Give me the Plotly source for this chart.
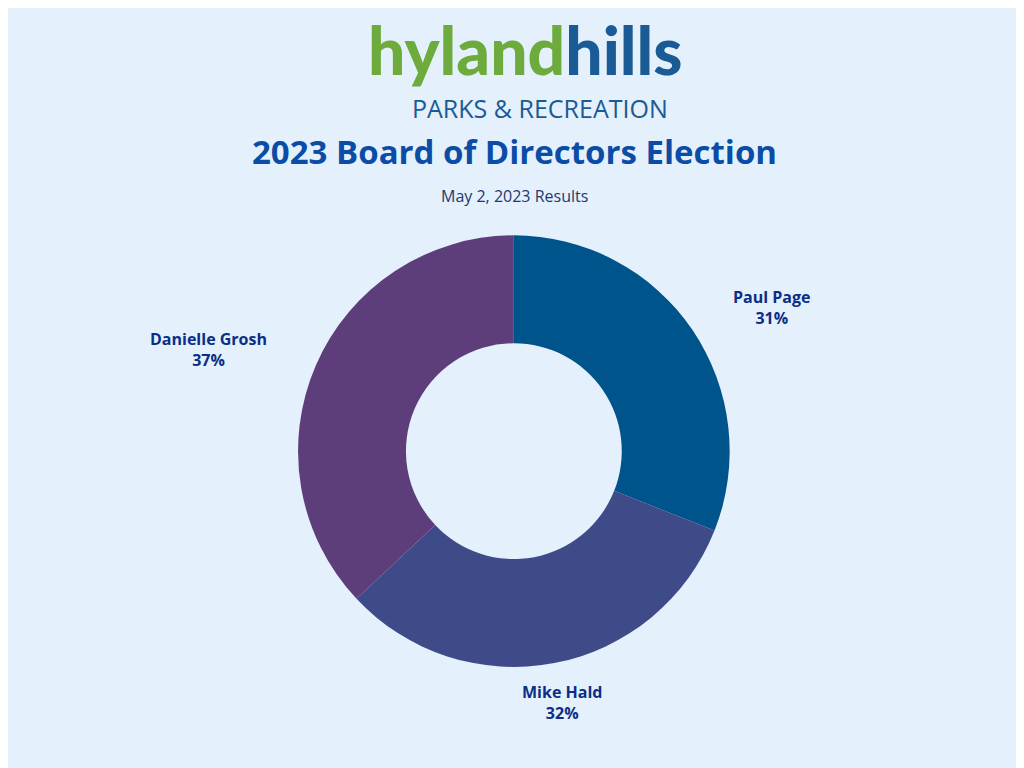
import plotly.graph_objects as go

candidates = ['Paul Page', 'Mike Hald', 'Danielle Grosh']
shares = [31, 32, 37]
colors = ['#00548C', '#3F4A88', '#5E3E7A']

# label anchor points (paper coords) for each slice
label_x = [0.785, 0.541, 0.137]
label_y = [0.610, 0.065, 0.555]

bg = '#E4F0FC'

fig = go.Figure(go.Pie(
    labels=candidates,
    values=shares,
    hole=0.5,
    sort=False,
    direction='clockwise',
    rotation=0,
    marker=dict(colors=colors, line=dict(width=0)),
    textinfo='none',
    hoverinfo='label+percent',
    showlegend=False,
    domain=dict(x=[0.281, 0.707], y=[0.142, 0.704]),
))

ann = []
for name, v, x, y in zip(candidates, shares, label_x, label_y):
    ann.append(dict(x=x, y=y, xref='paper', yref='paper', showarrow=False,
                    text=f'<b>{name}<br>{v}%</b>',
                    font=dict(family='Open Sans', size=16, color='#0B2E86')))

# logo + titles
ann += [
    dict(x=0.505, y=1.0, xref='paper', yref='paper', yanchor='top', showarrow=False,
         text="<span style='color:#6CAB3C'>hyland</span><span style='color:#1A5A95'>hills</span>",
         font=dict(family='Lato', size=66, weight=900)),
    dict(x=0.52, y=0.895, xref='paper', yref='paper', showarrow=False,
         text='PARKS &amp; RECREATION',
         font=dict(family='Open Sans', size=25, color='#1A5A95')),
    dict(x=0.495, y=0.845, xref='paper', yref='paper', showarrow=False,
         text='<b>2023 Board of Directors Election</b>',
         font=dict(family='Open Sans', size=33, color='#0B4DA6')),
    dict(x=0.495, y=0.772, xref='paper', yref='paper', showarrow=False,
         text='May 2, 2023 Results',
         font=dict(family='Open Sans', size=16, color='#1C3A6E')),
]

fig.update_layout(
    width=1024, height=768,
    margin=dict(l=0, r=0, t=0, b=0),
    paper_bgcolor=bg, plot_bgcolor=bg,
    annotations=ann,
)

fig.write_html('out.html')
